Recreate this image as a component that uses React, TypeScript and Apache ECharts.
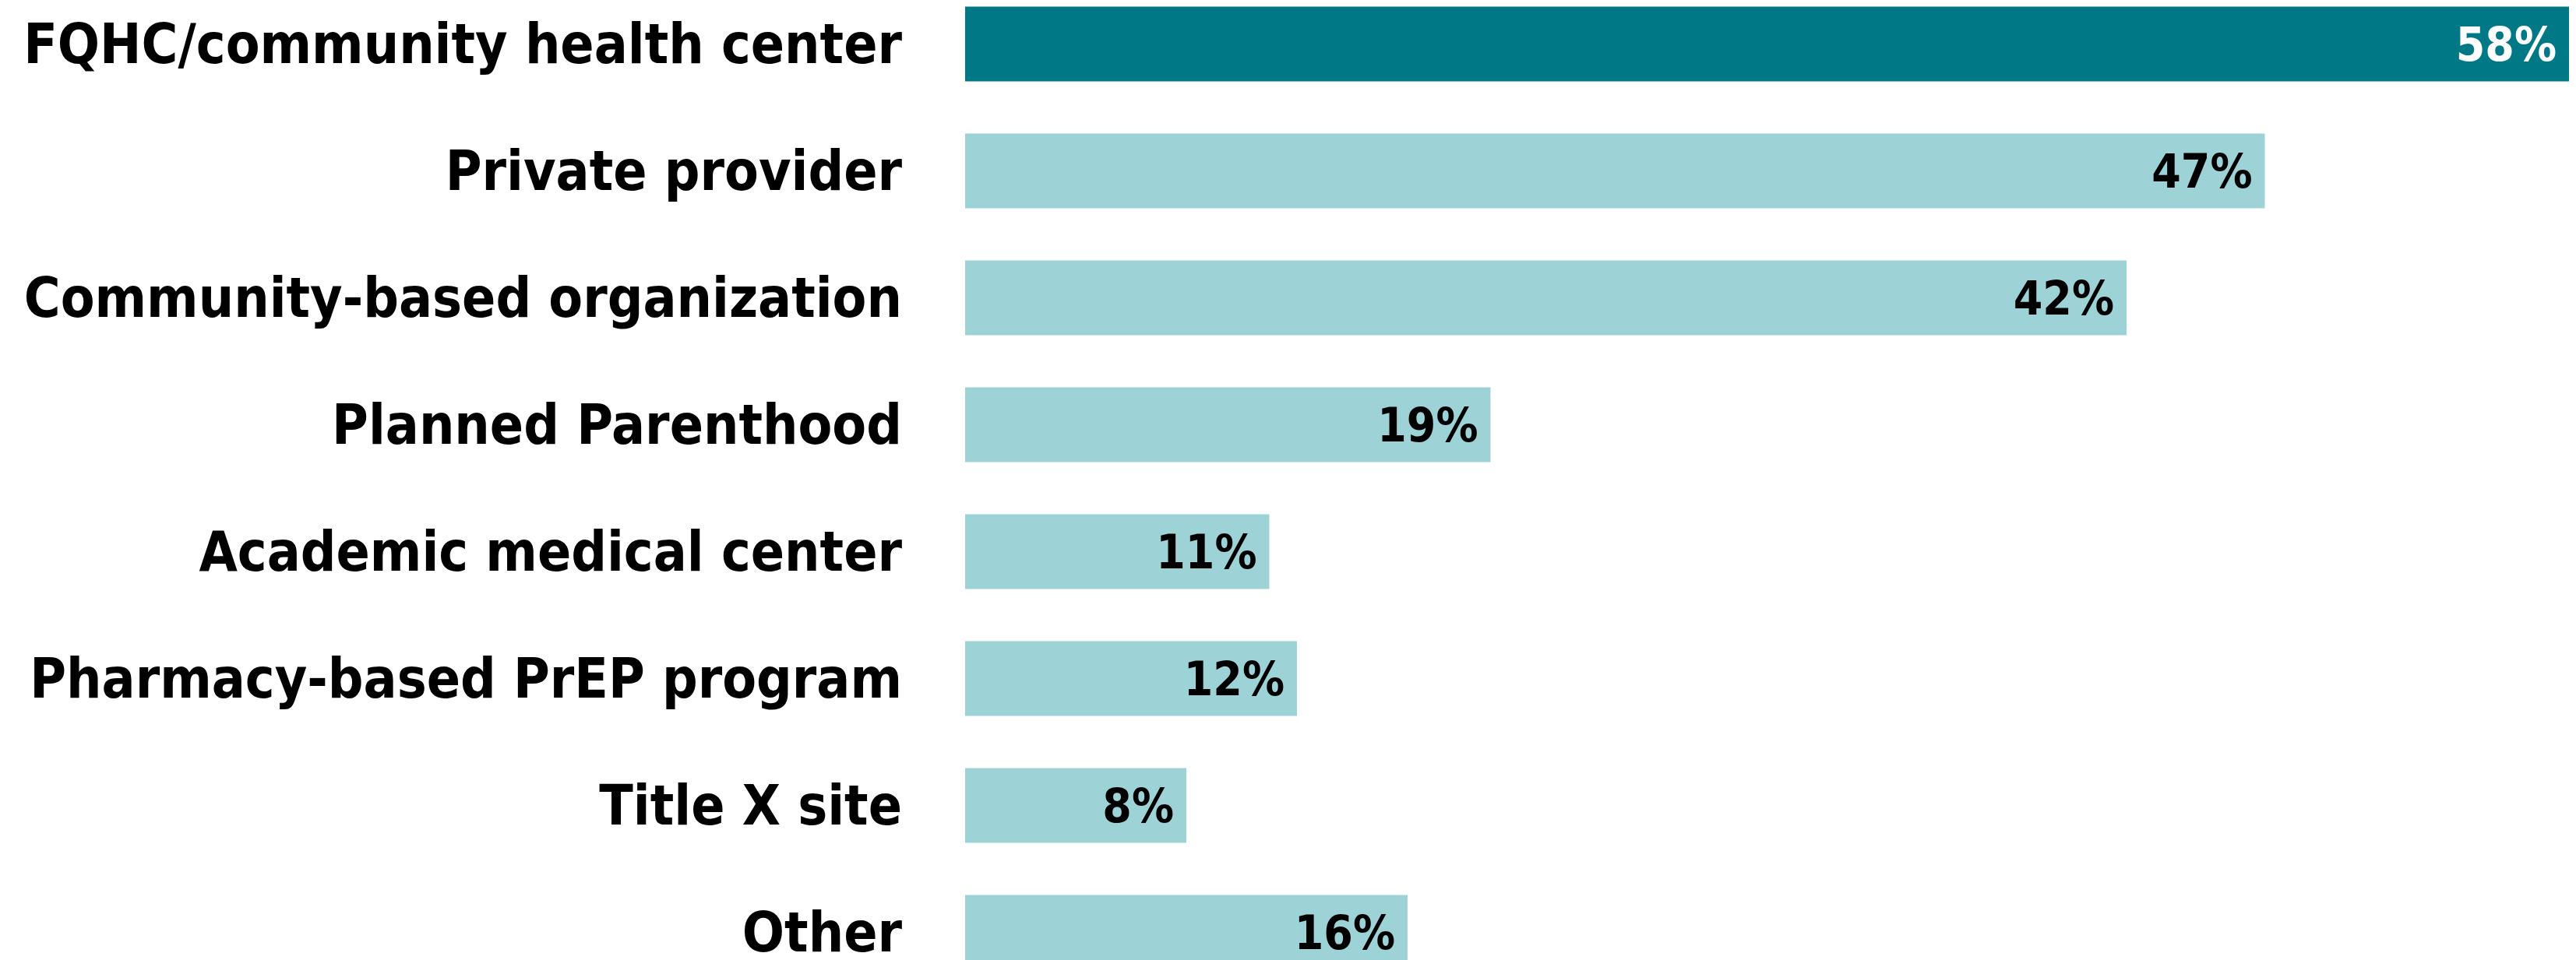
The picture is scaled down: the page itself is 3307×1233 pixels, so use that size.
import React, { useEffect, useRef } from "react";
import * as echarts from "echarts";

const categories = [
  "FQHC/community health center",
  "Private provider",
  "Community-based organization",
  "Planned Parenthood",
  "Academic medical center",
  "Pharmacy-based PrEP program",
  "Title X site",
  "Other",
];
const values = [58, 47, 42, 19, 11, 12, 8, 16];
const highlightIndex = 0;

const DARK = "#007886";
const LIGHT = "#9DD2D7";
const FONT = "'DejaVu Sans Condensed', 'Liberation Sans Narrow', sans-serif";

export default function App() {
  const ref = useRef<HTMLDivElement>(null);
  useEffect(() => {
    document.body.style.margin = "0";
    if (!ref.current) return;
    const chart = echarts.init(ref.current, undefined, { renderer: "svg" });
    chart.setOption({
      animation: false,
      backgroundColor: "#ffffff",
      grid: { left: 1239, top: 0, height: 1304, width: 2130, outerBoundsMode: "none", containLabel: false },
      xAxis: {
        type: "value",
        min: 0,
        max: 60,
        show: false,
      },
      yAxis: {
        type: "category",
        data: categories,
        inverse: true,
        axisLine: { show: false },
        axisTick: { show: false },
        axisLabel: {
          margin: 81,
          fontFamily: FONT,
          fontWeight: "bold",
          fontSize: 71,
          color: "#000000",
          align: "right",
        },
      },
      series: [
        {
          type: "bar",
          barWidth: 96,
          data: values.map((v, i) => ({
            value: v,
            itemStyle: { color: i === highlightIndex ? DARK : LIGHT },
            label: { color: i === highlightIndex ? "#ffffff" : "#000000" },
          })),
          label: {
            show: true,
            position: "insideRight",
            distance: 16,
            formatter: "{c}%",
            fontFamily: FONT,
            fontWeight: "bold",
            fontSize: 60,
          },
        },
      ],
    });
    return () => chart.dispose();
  }, []);
  return (
    <div style={{ position: "fixed", left: 0, top: 0, width: 3307, height: 1233, overflow: "hidden", background: "#fff" }}>
      <div ref={ref} style={{ position: "absolute", left: 0, top: -25, width: 3500, height: 1320 }} />
    </div>
  );
}
